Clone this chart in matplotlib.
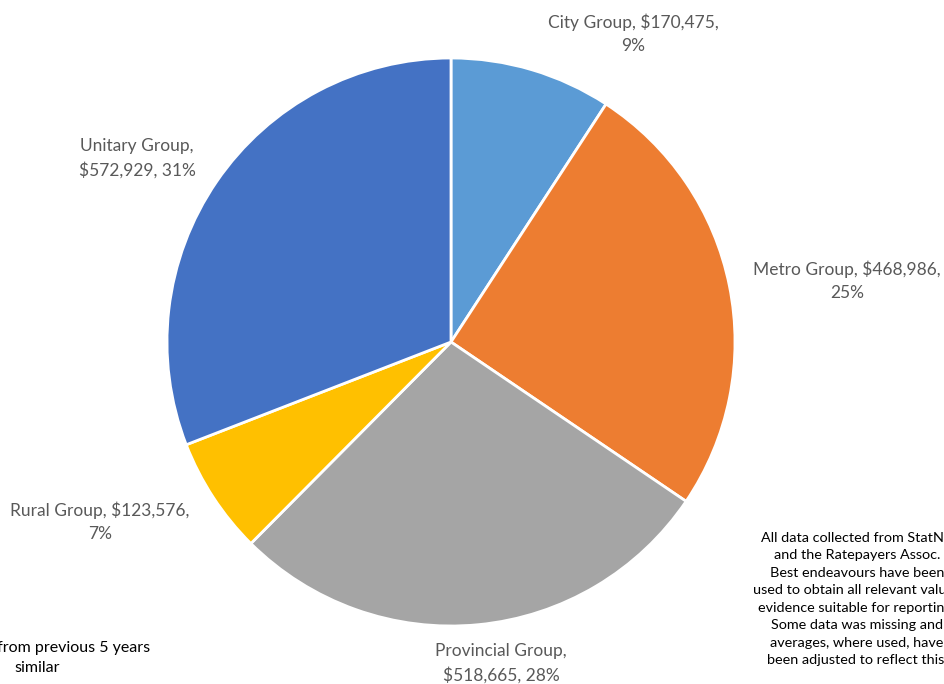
import matplotlib.pyplot as plt

W, H = 945, 684

groups = ["City Group", "Metro Group", "Provincial Group", "Rural Group", "Unitary Group"]
values = [170475, 468986, 518665, 123576, 572929]
colors = ["#5B9BD5", "#ED7D31", "#A5A5A5", "#FFC000", "#4472C4"]
# where the label line breaks: after name (1) or after value (2)
breaks = [2, 2, 1, 2, 1]
# label centres in pixels (x, y from top)
label_pos = [(633, 34), (847, 281), (501, 663), (100, 522), (137, 158)]

note_right = ("All data collected from StatNZ\nand the Ratepayers Assoc.\n"
              "Best endeavours have been\nused to obtain all relevant values\n"
              "evidence suitable for reporting.\nSome data was missing and\n"
              "averages, where used, have\nbeen adjusted to reflect this.")
note_left = "Estimated from previous 5 years\nsimilar"

txt_color = "#595959"
plt.rcParams['font.family'] = ['Lato', 'DejaVu Sans']

fig = plt.figure(figsize=(W / 100, H / 100), dpi=100)

cx, cy, r = 451, 342, 284
ax = fig.add_axes([(cx - r) / W, (H - cy - r) / H, 2 * r / W, 2 * r / H])
ax.pie(values, colors=colors, startangle=90, counterclock=False, radius=1,
       wedgeprops=dict(edgecolor="white", linewidth=2))
ax.set_xlim(-1, 1)
ax.set_ylim(-1, 1)
ax.axis("off")

total = sum(values)
for name, v, b, (px, py) in zip(groups, values, breaks, label_pos):
    pct = round(v / total * 100)
    if b == 1:
        s = f"{name},\n${v:,}, {pct}%"
    else:
        s = f"{name}, ${v:,},\n{pct}%"
    fig.text(px / W, 1 - py / H, s, ha="center", va="center", fontsize=12.5,
             color=txt_color, linespacing=1.55)

fig.text(857 / W, 1 - 599 / H, note_right, ha="center", va="center",
         fontsize=10.4, color="black", linespacing=1.55)
fig.text(37 / W, 1 - 658 / H, note_left, ha="center", va="center",
         fontsize=11.5, color="black", linespacing=1.5)

fig.savefig("out.png", dpi=100)
